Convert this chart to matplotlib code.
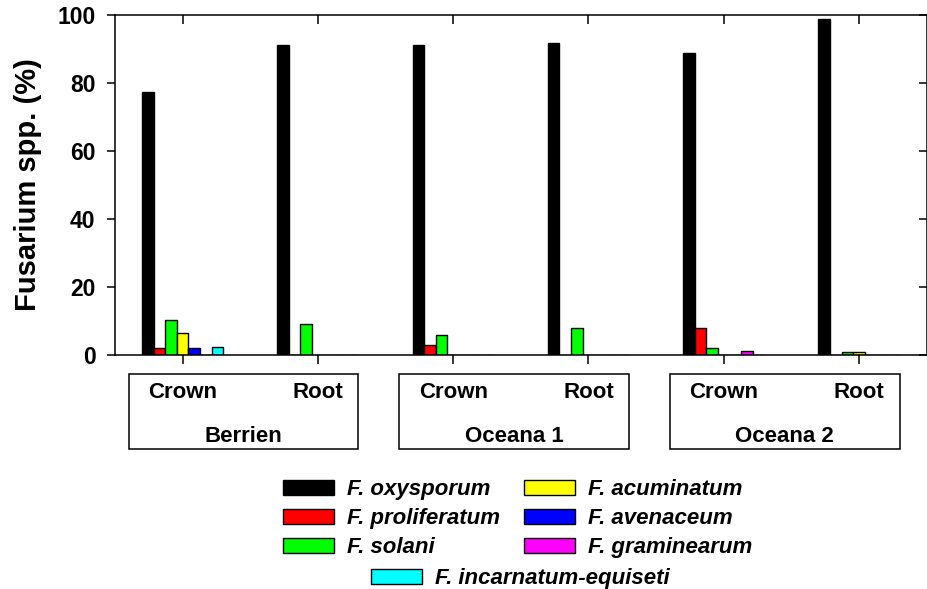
import numpy as np
import matplotlib
matplotlib.use('Agg')
import matplotlib.pyplot as plt
from matplotlib.patches import Rectangle, Patch

plt.rcParams['font.family'] = ['Liberation Sans', 'DejaVu Sans']
plt.rcParams['font.weight'] = 'bold'

SITES = ['Berrien', 'Oceana 1', 'Oceana 2']
TISSUES = ['Crown', 'Root']
SPECIES = ['F. oxysporum', 'F. proliferatum', 'F. solani', 'F. acuminatum',
           'F. avenaceum', 'F. graminearum', 'F. incarnatum-equiseti']
COLORS = ['#000000', '#ff0000', '#00ff00', '#ffff00', '#0000ff', '#ff00ff', '#00ffff']

# % per sample, order: Berrien crown/root, Oceana 1 crown/root, Oceana 2 crown/root
oxysporum = [77.5, 91.2, 91.2, 92.0, 89.0, 99.0]
proliferatum = [2.0, 0, 2.7, 0, 7.9, 0]
solani = [10.1, 9.0, 5.8, 7.9, 1.9, 0.6]
acuminatum = [6.2, 0, 0, 0, 0, 0.6]
avenaceum = [2.0, 0, 0, 0, 0, 0]
graminearum = [0, 0, 0, 0, 0.9, 0]
incarnatum = [2.1, 0, 0, 0, 0, 0]
VALUES = [oxysporum, proliferatum, solani, acuminatum, avenaceum, graminearum, incarnatum]

fig = plt.figure(figsize=(9.28, 5.89), dpi=100)
ax = fig.add_axes([0.1239, 0.3981, 0.8746, 0.5756])

x = np.arange(len(oxysporum))
w = 0.6 / len(SPECIES)
for k, (vals, col) in enumerate(zip(VALUES, COLORS)):
    ax.bar(x - 0.3 + (k + 0.5) * w, vals, w, color=col, edgecolor='black', lw=1.0,
           label=SPECIES[k])

ax.set_xlim(-0.5, 5.5)
ax.set_ylim(0, 100)
ax.set_yticks(range(0, 101, 20))
ax.set_xticks(x)
ax.set_xticklabels([])
ax.tick_params(axis='y', which='both', left=True, right=True, labelsize=16.5, length=6, width=1.1, pad=8)
ax.tick_params(axis='x', which='both', bottom=True, top=True, length=6.5, width=1.1)
ax.yaxis.set_tick_params(which='both', direction='out')
for t in ax.yaxis.get_major_ticks():
    t.tick2line.set_marker(matplotlib.lines.TICKLEFT)
for t in ax.xaxis.get_major_ticks():
    t.tick2line.set_marker(matplotlib.lines.TICKDOWN)
for s in ax.spines.values():
    s.set_linewidth(1.1)
ax.set_ylabel('Fusarium spp. (%)', fontsize=21, fontweight='bold', labelpad=11)

# category boxes below the axis
tr = ax.get_xaxis_transform()
for i, site in enumerate(SITES):
    x0, x1 = 2 * i - 0.40, 2 * i + 1.30
    ax.add_patch(Rectangle((x0, -0.2796), x1 - x0, 0.2212, transform=tr, fill=False,
                           lw=1.1, ec='black', clip_on=False))
    for j, tis in enumerate(TISSUES):
        ax.text(2 * i + j, -0.129, tis, transform=tr, ha='center', va='baseline',
                fontsize=16, fontweight='bold')
    ax.text((x0 + x1) / 2, -0.257, site, transform=tr, ha='center', va='baseline',
            fontsize=16, fontweight='bold')

handles = [Patch(fc=c, ec='black', lw=1.0) for c in COLORS]
leg_kw = dict(frameon=False, handlelength=2.3, handleheight=0.68, handletextpad=0.6,
              labelspacing=0.37, borderpad=0, borderaxespad=0,
              prop={'size': 16, 'weight': 'bold', 'style': 'italic'})
leg1 = fig.legend(handles[:6], SPECIES[:6], ncol=2, columnspacing=1.05, loc='upper left',
                  bbox_to_anchor=(283 / 928, 1 - 479 / 589), **leg_kw)
leg2 = fig.legend(handles[6:], SPECIES[6:], loc='upper left',
                  bbox_to_anchor=(370.7 / 928, 1 - 568 / 589), **leg_kw)

fig.savefig('out.png', dpi=100)
